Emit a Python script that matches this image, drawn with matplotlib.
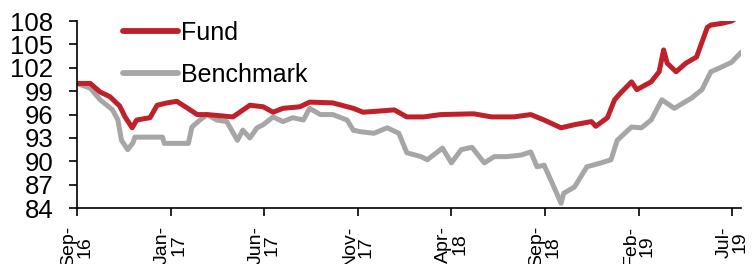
import matplotlib.pyplot as plt

plt.rcParams["font.family"] = ["Liberation Sans", "DejaVu Sans"]

# trading-day index (ticks every 105 days) and index values
fund_x = [0, 15, 26, 37, 48, 54, 62, 67, 82, 90, 101, 112, 123, 135, 146, 175,
          194, 209, 220, 231, 250, 261, 287, 310, 321, 356, 370, 389, 408, 445,
          465, 490, 509, 524, 543, 558, 577, 582, 595, 603, 610, 622, 628, 644,
          653, 658, 662, 672, 683, 695, 707, 711, 723, 734, 745]
fund = [100.0, 100.0, 98.9, 98.3, 97.1, 95.7, 94.3, 95.3, 95.6, 97.2, 97.5, 97.7,
        96.9, 96.0, 96.0, 95.7, 97.2, 97.0, 96.3, 96.8, 97.0, 97.6, 97.5, 96.8,
        96.3, 96.6, 95.7, 95.7, 96.0, 96.1, 95.7, 95.7, 96.0, 95.3, 94.3, 94.7,
        95.1, 94.5, 95.6, 97.9, 98.8, 100.2, 99.2, 100.2, 101.5, 104.3, 102.6,
        101.5, 102.6, 103.4, 107.2, 107.5, 107.7, 108.0, 108.8]

bench_x = [0, 15, 26, 40, 46, 50, 57, 63, 65, 96, 98, 125, 129, 138, 146, 157,
           168, 180, 186, 194, 202, 209, 220, 231, 242, 254, 261, 273, 287, 303,
           310, 318, 333, 348, 361, 370, 386, 393, 410, 420, 431, 443, 457, 468,
           482, 498, 509, 516, 524, 535, 543, 546, 558, 572, 588, 599, 606, 622,
           633, 644, 656, 670, 689, 701, 711, 723, 734, 745]
bench = [100.0, 99.4, 97.9, 96.6, 95.3, 92.7, 91.5, 92.4, 93.1, 93.1, 92.3, 92.3,
         94.4, 95.3, 96.0, 95.3, 95.1, 92.7, 94.0, 93.0, 94.3, 94.7, 95.7, 95.1,
         95.6, 95.3, 96.8, 96.0, 96.0, 95.3, 94.0, 93.8, 93.6, 94.3, 93.6, 91.1,
         90.6, 90.2, 91.7, 89.8, 91.5, 91.8, 89.8, 90.6, 90.6, 90.8, 91.2, 89.3,
         89.5, 86.7, 84.6, 85.9, 86.7, 89.3, 89.8, 90.2, 92.7, 94.4, 94.3, 95.3,
         97.9, 96.8, 98.1, 99.2, 101.5, 102.1, 102.7, 104.0]

tick_pos = [0, 105, 210, 315, 420, 525, 630, 735]
tick_labels = ["Sep-\n16", "Jan-\n17", "Jun-\n17", "Nov-\n17",
               "Apr-\n18", "Sep-\n18", "Feb-\n19", "Jul-\n19"]
y_ticks = [84, 87, 90, 93, 96, 99, 102, 105, 108]

fig = plt.figure(figsize=(7.54, 2.64), dpi=100)
ax = fig.add_axes([0.102, 0.212, 0.881, 0.708])

ax.plot(bench_x, bench, color="#a6a6a6", lw=3.6, label="Benchmark",
        solid_joinstyle="round", solid_capstyle="round")
ax.plot(fund_x, fund, color="#c0202a", lw=3.6, label="Fund",
        solid_joinstyle="round", solid_capstyle="round")

ax.set_xlim(0, 745)
ax.set_ylim(84, 108)
ax.set_yticks(y_ticks)
ax.set_xticks(tick_pos)
ax.set_xticklabels(tick_labels, rotation=90, fontsize=14, ha="center",
                   va="top", multialignment="center", linespacing=0.95)
ax.tick_params(axis="y", labelsize=18.5, length=6, width=1.2, pad=11)
ax.tick_params(axis="x", length=6, width=1.2, pad=7)

for s in ["top", "right"]:
    ax.spines[s].set_visible(False)
for s in ["left", "bottom"]:
    ax.spines[s].set_linewidth(1.2)

h, l = ax.get_legend_handles_labels()
leg = ax.legend(h[::-1], l[::-1], loc="upper left", bbox_to_anchor=(0.036, 1.12),
                frameon=False, fontsize=18, handlelength=2.2, handletextpad=0.1,
                labelspacing=0.72)
for line in leg.get_lines():
    line.set_linewidth(4.2)

fig.savefig("out.png", dpi=100)
